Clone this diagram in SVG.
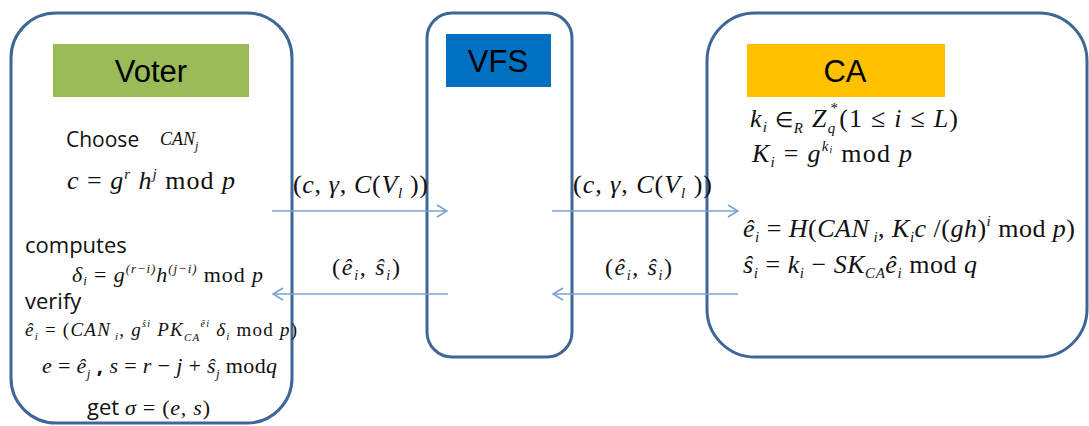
<svg xmlns="http://www.w3.org/2000/svg" width="1089" height="426" viewBox="0 0 1089 426">
<style>
.box{fill:#fff;stroke:#3E6697;stroke-width:3}
.lbl{font-family:"Liberation Sans",Arial,sans-serif;font-size:31px;fill:#000}
.sans{font-family:"Open Sans","Liberation Sans",sans-serif;fill:#111}
.m{font-family:"Liberation Serif","Times New Roman",serif;fill:#111}
.i{font-style:italic}
.conn{stroke:#7BA0D2;stroke-width:1.6;fill:none}
</style>
<defs>
<marker id="ah" markerWidth="12" markerHeight="14" refX="11" refY="7" orient="auto" markerUnits="userSpaceOnUse">
<path d="M1,1 L11,7 L1,13" fill="none" stroke="#7BA0D2" stroke-width="1.6"/>
</marker>
</defs>
<rect width="1089" height="426" fill="#fff"/>

<g id="voter">
<rect class="box" x="11" y="13" width="281" height="410" rx="45"/>
<rect x="53" y="44" width="196" height="53" fill="#9BBB59"/>
<text class="lbl" x="151" y="82" text-anchor="middle">Voter</text>
<text class="sans" x="66" y="147" font-size="21">Choose</text>
<text class="m i" x="160" y="145" font-size="18">CAN<tspan font-size="12" dy="5">j</tspan></text>
<text class="m" x="67" y="189" font-size="26" textLength="168" lengthAdjust="spacing"><tspan class="i">c</tspan> = <tspan class="i">g</tspan><tspan class="i" font-size="15" dy="-10">r</tspan><tspan class="i" dy="10"> h</tspan><tspan class="i" font-size="15" dy="-10">j</tspan><tspan dy="10"> mod </tspan><tspan class="i">p</tspan></text>
<text class="sans" x="25" y="253" font-size="22">computes</text>
<text class="m" x="72" y="282" font-size="22" textLength="191" lengthAdjust="spacing"><tspan class="i">δ</tspan><tspan class="i" font-size="13" dy="3">i</tspan><tspan dy="-3"> = </tspan><tspan class="i">g</tspan><tspan class="i" font-size="13" dy="-9">(r−i)</tspan><tspan class="i" dy="9">h</tspan><tspan class="i" font-size="13" dy="-9">(j−i)</tspan><tspan dy="9"> mod </tspan><tspan class="i">p</tspan></text>
<text class="sans" x="25" y="309" font-size="22">verify</text>
<text class="m" x="25" y="336" font-size="19" textLength="272" lengthAdjust="spacing"><tspan class="i">ê</tspan><tspan class="i" font-size="11" dy="4">i</tspan><tspan dy="-4"> = (</tspan><tspan class="i">CAN</tspan><tspan class="i" font-size="11" dy="4"> i</tspan><tspan dy="-4">, </tspan><tspan class="i">g</tspan><tspan class="i" font-size="10" dy="-9">ŝi</tspan><tspan class="i" dy="9"> PK</tspan><tspan class="i" font-size="11" dy="5">CA</tspan><tspan class="i" font-size="10" dy="-14">êi</tspan><tspan class="i" dy="9"> δ</tspan><tspan class="i" font-size="11" dy="4">i</tspan><tspan dy="-4"> mod </tspan><tspan class="i">p</tspan>)</text>
<text class="m" x="42" y="373" font-size="22" textLength="235" lengthAdjust="spacing"><tspan class="i">e</tspan> = <tspan class="i">ê</tspan><tspan class="i" font-size="13" dy="5">j</tspan><tspan dy="-5" class="sans" font-weight="bold"> , </tspan><tspan class="i">s</tspan> = <tspan class="i">r</tspan> − <tspan class="i">j</tspan> + <tspan class="i">ŝ</tspan><tspan class="i" font-size="13" dy="5">j</tspan><tspan dy="-5"> mod</tspan><tspan class="i">q</tspan></text>
<text class="sans" x="87" y="415" font-size="22">get</text>
<text class="m" x="125" y="415" font-size="22" textLength="85" lengthAdjust="spacing"><tspan class="i">σ</tspan> = (<tspan class="i">e</tspan>, <tspan class="i">s</tspan>)</text>
</g>

<g id="vfs">
<rect class="box" x="427" y="13" width="145" height="344" rx="25"/>
<rect x="446" y="34" width="105" height="53" fill="#0070C0"/>
<text class="lbl" x="498" y="72" text-anchor="middle">VFS</text>
</g>

<g id="ca">
<rect class="box" x="707" y="13" width="380" height="344" rx="48"/>
<rect x="747" y="44" width="198" height="53" fill="#FFC000"/>
<text class="lbl" x="845" y="82" text-anchor="middle">CA</text>
<text class="m" x="750" y="127" font-size="26" textLength="208" lengthAdjust="spacing"><tspan class="i">k</tspan><tspan class="i" font-size="15" dy="5">i</tspan><tspan dy="-5" font-size="21"> ∈</tspan><tspan class="i" font-size="15" dy="6">R</tspan><tspan class="i" dy="-6"> Z</tspan><tspan class="i" font-size="15" dy="6">q</tspan><tspan font-size="15" dx="-6" dy="-20">*</tspan><tspan dy="14">(1 ≤ </tspan><tspan class="i">i</tspan> ≤ <tspan class="i">L</tspan>)</text>
<text class="m" x="752" y="162" font-size="26" textLength="160" lengthAdjust="spacing"><tspan class="i">K</tspan><tspan class="i" font-size="15" dy="5">i</tspan><tspan dy="-5"> = </tspan><tspan class="i">g</tspan><tspan class="i" font-size="15" dy="-11">k</tspan><tspan class="i" font-size="10" dy="2">i</tspan><tspan dy="9"> mod </tspan><tspan class="i">p</tspan></text>
<text class="m" x="743" y="237" font-size="26" textLength="332" lengthAdjust="spacing"><tspan class="i">ê</tspan><tspan class="i" font-size="15" dy="5">i</tspan><tspan dy="-5"> = </tspan><tspan class="i">H</tspan>(<tspan class="i">CAN</tspan><tspan class="i" font-size="15" dy="5"> i</tspan><tspan dy="-5">, </tspan><tspan class="i">K</tspan><tspan class="i" font-size="15" dy="5">i</tspan><tspan class="i" dy="-5">c</tspan> /(<tspan class="i">gh</tspan>)<tspan class="i" font-size="15" dy="-11">i</tspan><tspan dy="11"> mod </tspan><tspan class="i">p</tspan>)</text>
<text class="m" x="743" y="273" font-size="26" textLength="234" lengthAdjust="spacing"><tspan class="i">ŝ</tspan><tspan class="i" font-size="15" dy="5">i</tspan><tspan dy="-5"> = </tspan><tspan class="i">k</tspan><tspan class="i" font-size="15" dy="5">i</tspan><tspan dy="-5"> − </tspan><tspan class="i">SK</tspan><tspan class="i" font-size="15" dy="5">CA</tspan><tspan class="i" dy="-5">ê</tspan><tspan class="i" font-size="15" dy="5">i</tspan><tspan dy="-5"> mod </tspan><tspan class="i">q</tspan></text>
</g>

<g id="connectors">
<line class="conn" x1="272" y1="211" x2="447" y2="211" marker-end="url(#ah)"/>
<line class="conn" x1="448" y1="294" x2="273" y2="294" marker-end="url(#ah)"/>
<line class="conn" x1="552" y1="211" x2="738" y2="211" marker-end="url(#ah)"/>
<line class="conn" x1="738" y1="294" x2="553" y2="294" marker-end="url(#ah)"/>
<text class="m" x="293" y="193" font-size="26" textLength="135" lengthAdjust="spacing">(<tspan class="i">c</tspan>, <tspan class="i">γ</tspan>, <tspan class="i">C</tspan>(<tspan class="i">V</tspan><tspan class="i" font-size="15" dy="5">l</tspan><tspan dy="-5"> ))</tspan></text>
<text class="m" x="573" y="193" font-size="26" textLength="139" lengthAdjust="spacing">(<tspan class="i">c</tspan>, <tspan class="i">γ</tspan>, <tspan class="i">C</tspan>(<tspan class="i">V</tspan><tspan class="i" font-size="15" dy="5">l</tspan><tspan dy="-5"> ))</tspan></text>
<text class="m" x="332" y="275" font-size="24" textLength="68" lengthAdjust="spacing">(<tspan class="i">ê</tspan><tspan class="i" font-size="14" dy="5">i</tspan><tspan dy="-5">, </tspan><tspan class="i">ŝ</tspan><tspan class="i" font-size="14" dy="5">i</tspan><tspan dy="-5">)</tspan></text>
<text class="m" x="605" y="275" font-size="24" textLength="67" lengthAdjust="spacing">(<tspan class="i">ê</tspan><tspan class="i" font-size="14" dy="5">i</tspan><tspan dy="-5">, </tspan><tspan class="i">ŝ</tspan><tspan class="i" font-size="14" dy="5">i</tspan><tspan dy="-5">)</tspan></text>
</g>
</svg>
